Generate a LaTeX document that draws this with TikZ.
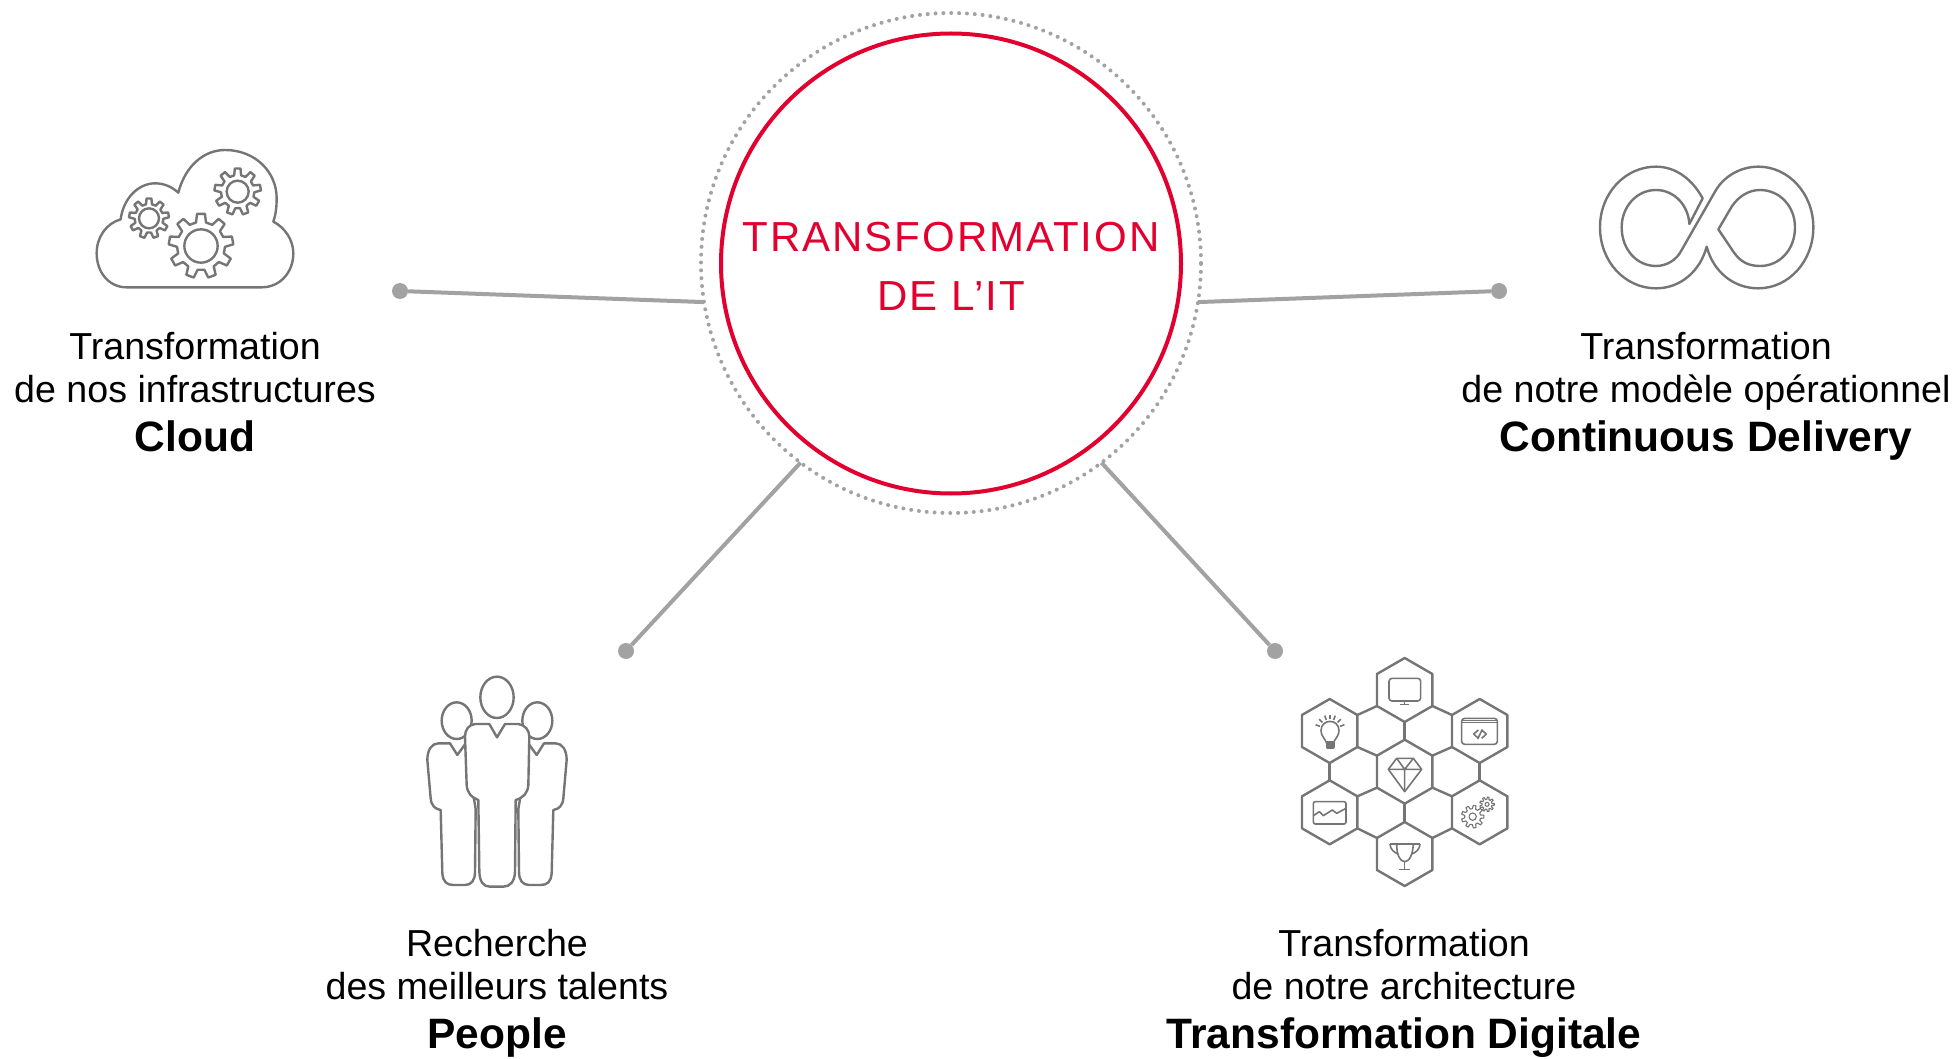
\documentclass[tikz,border=0pt]{standalone}
\usepackage{fontspec}
\setmainfont{Liberation Sans}
\newfontfamily\hubfont[LetterSpace=4.7]{Liberation Sans}
\usetikzlibrary{calc}
\definecolor{hubred}{HTML}{E2002F}
\definecolor{icongray}{HTML}{757575}
\definecolor{linkgray}{HTML}{A2A2A2}
\tikzset{
	pics/gear/.style n args={4}{code={
		\draw[#4] (-12:#2) \foreach \a in {0,40,...,320} {-- ({\a-12}:#2) -- ({\a-7}:#3) -- ({\a+7}:#3) -- ({\a+12}:#2)} -- cycle;
		\draw[#4] (0,0) circle (#1);
	}},
	pics/sideman/.style={code={
		\draw[icon, fill=white] (140,167) ellipse (45 and 55);
		\draw[icon, fill=white] (165,238) -- (142,270) -- (120,235) -- (85,235) .. controls (65,235) and (52,255) .. (52,285) -- (62,400) .. controls (64,422) and (75,432) .. (92,435) -- (97,625) .. controls (99,650) and (110,660) .. (130,660) -- (165,660) .. controls (185,660) and (195,645) .. (195,620) -- (197,432) -- cycle;
	}},
}
\newcommand{\headline}[1]{{\fontsize{42.5}{49}\selectfont\bfseries #1}}
\begin{document}
\begin{tikzpicture}[x=1pt, y=-1pt,
	icon/.style={line width=2.4pt, line join=round, draw=icongray},
	thin icon/.style={icon, line width=1.6pt},
	hair icon/.style={icon, line width=1.1pt},
	link/.style={line width=4pt, draw=linkgray},
	pin/.style={circle, fill=linkgray, inner sep=0pt, minimum size=16pt},
	caption/.style={anchor=north, inner sep=0pt, align=center, font=\fontsize{37.6}{43}\selectfont},
]
	\useasboundingbox (0,0) rectangle (1957,1059);

	% central circles
	\node (hub) at (951,263) [circle, inner sep=0pt, outer sep=0pt, minimum size=500pt, draw=linkgray, line width=4pt, line cap=round, dash pattern=on 0pt off 7.85pt] {};
	\node (ring) at (951,263.5) [circle, inner sep=0pt, outer sep=0pt, minimum size=460pt, draw=hubred, line width=4pt] {};
	\node (title) at (951,266) [text=hubred, align=center, font=\hubfont\fontsize{42}{59}\selectfont] {TRANSFORMATION\\DE L’IT};

	% pins and links
	\node (cloudpin) at (400,291) [pin] {};
	\node (deliverypin) at (1499,291) [pin] {};
	\node (peoplepin) at (626,651) [pin] {};
	\node (digitalpin) at (1275,651) [pin] {};
	\draw[link] (hub.189) -- (cloudpin);
	\draw[link] (hub.351) -- (deliverypin);
	\draw[link] (hub.233) -- (peoplepin);
	\draw[link] (hub.307) -- (digitalpin);

	% captions
	\node (cloudtext) at (195,329) [caption] {\strut Transformation\\de nos infrastructures\\[6pt]\headline{Cloud}};
	\node (deliverytext) at (1706,329) [caption] {\strut Transformation\\de notre modèle opérationnel\\[6pt]\headline{Continuous Delivery}};
	\node (peopletext) at (497,926) [caption] {\strut Recherche\\des meilleurs talents\\[6pt]\headline{People}};
	\node (digitaltext) at (1404,926) [caption] {\strut Transformation\\de notre architecture\\[6pt]\headline{Transformation Digitale}};

	% cloud
	\begin{scope}[shift={(80,130)}, scale=1/3]
		\draw[icon] (140,472) .. controls (85,472) and (50,425) .. (50,370) .. controls (50,320) and (80,280) .. (122,268) .. controls (130,205) and (175,160) .. (225,160) .. controls (252,160) and (275,170) .. (295,188) .. controls (315,110) and (370,60) .. (435,60) .. controls (525,60) and (590,125) .. (590,205) .. controls (590,232) and (587,255) .. (580,275) .. controls (615,293) and (640,330) .. (640,370) .. controls (640,427) and (600,472) .. (545,472) -- cycle;
		\path (363,348) pic[transform shape, rotate=90] {gear={50}{72}{97}{icon}};
		\path (207,265) pic[transform shape, rotate=90] {gear={30}{43}{60}{icon}};
		\path (473,185) pic[transform shape, rotate=90] {gear={33}{50}{70}{icon}};
	\end{scope}

	% infinity
	\begin{scope}[shift={(1580,150)}, scale=1/3]
		\draw[icon] (368,145) .. controls (335,85) and (285,50) .. (228,50) .. controls (135,50) and (60,130) .. (60,232) .. controls (60,335) and (135,415) .. (228,415) .. controls (300,415) and (360,365) .. (380,290) .. controls (400,365) and (460,415) .. (535,415) .. controls (625,415) and (700,335) .. (700,232) .. controls (700,130) and (625,50) .. (535,50) .. controls (480,50) and (430,80) .. (405,125) -- (305,300) .. controls (290,330) and (260,348) .. (228,348) .. controls (170,348) and (125,298) .. (125,232) .. controls (125,170) and (170,120) .. (228,120) .. controls (282,120) and (325,165) .. (328,222) -- cycle;
		\draw[icon] (415,238) -- (455,170) .. controls (475,140) and (505,120) .. (540,120) .. controls (600,120) and (645,170) .. (645,232) .. controls (645,298) and (600,348) .. (540,348) .. controls (505,348) and (480,335) .. (460,305) -- cycle;
	\end{scope}

	% people
	\begin{scope}[shift={(410,665)}, scale=1/3]
		\path (0,0) pic[transform shape] {sideman};
		\path (522,0) pic[transform shape, xscale=-1] {sideman};
		\draw[icon] (261,97) ellipse (50 and 62);
		\draw[icon, fill=white] (238,177) -- (261,217) -- (285,177) -- (325,177) .. controls (345,180) and (358,195) .. (358,215) -- (355,360) .. controls (353,385) and (340,398) .. (317,405) -- (315,620) .. controls (314,650) and (300,665) .. (280,665) -- (240,665) .. controls (220,665) and (209,650) .. (208,620) -- (205,405) .. controls (185,398) and (172,385) .. (170,360) -- (165,215) .. controls (165,195) and (175,180) .. (195,177) -- cycle;
	\end{scope}

	% hexagons
	\begin{scope}[shift={(1285,650)}, scale=1/3]
		\foreach \n/\x/\y in {top/359/120, upleft/134/243, upright/584/243, mid/359/365, lowleft/134/487, lowright/584/487, bot/359/612} {
			\foreach \a in {30,90,...,330}
				\coordinate (\n-\a) at ($(\x,\y)+(\a:96)$);
			\draw[icon] (\n-30) -- (\n-90) -- (\n-150) -- (\n-210) -- (\n-270) -- (\n-330) -- cycle;
		}
		\foreach \p/\q in {top-150/upleft-330, top-30/upright-210, top-90/mid-270, upleft-30/mid-210, upright-150/mid-330, upleft-90/lowleft-270, upright-90/lowright-270, lowleft-330/mid-150, lowright-210/mid-30, lowleft-30/bot-210, lowright-150/bot-330, mid-90/bot-270}
			\draw[icon] (\p) -- (\q);
		% monitor
		\draw[thin icon, rounded corners=3pt] (312,85) rectangle (407,153);
		\draw[thin icon] (359,153) -- (359,163) (345,164) -- (373,164);
		% window
		\draw[thin icon, rounded corners=3pt] (530,205) rectangle (637,283);
		\draw[thin icon] (530,212) -- (637,212) (530,218) -- (637,218);
		\draw[thin icon] (580,240) -- (566,252) -- (580,265) (590,240) -- (604,252) -- (590,265) (592,238) -- (578,267);
		% bulb
		\draw[thin icon] (125,280) .. controls (120,265) and (108,258) .. (108,242) .. controls (108,205) and (162,205) .. (162,242) .. controls (162,258) and (150,265) .. (145,280);
		\draw[icon, fill=icongray] (126,278) rectangle (145,292);
		\foreach \a in {200,225,250,270,290,315,340}
			\draw[thin icon] ($(135,240)+(\a:32)$) -- ($(135,240)+(\a:46)$);
		% diamond
		\draw[thin icon] (335,325) -- (385,325) -- (410,358) -- (359,425) -- (310,358) -- cycle;
		\draw[thin icon] (310,358) -- (410,358) (335,325) -- (359,358) -- (385,325) (359,358) -- (359,425);
		% chart
		\draw[thin icon, rounded corners=2pt] (85,455) rectangle (183,522);
		\draw[thin icon] (85,497) -- (103,485) -- (115,497) -- (142,480) -- (155,490) -- (183,475);
		% gears
		\path (563,500) pic[transform shape] {gear={11}{24}{34}{hair icon}};
		\path (606,463) pic[transform shape] {gear={6}{15}{22}{hair icon}};
		% trophy
		\draw[thin icon] (315,582) -- (405,582);
		\draw[thin icon] (335,582) .. controls (335,615) and (345,635) .. (359,635) .. controls (373,635) and (383,615) .. (385,582);
		\draw[thin icon] (315,582) .. controls (315,598) and (328,608) .. (340,612) (405,582) .. controls (405,598) and (392,608) .. (380,612);
		\draw[thin icon] (359,635) -- (359,658) (343,658) -- (375,658);
	\end{scope}
\end{tikzpicture}
\end{document}
